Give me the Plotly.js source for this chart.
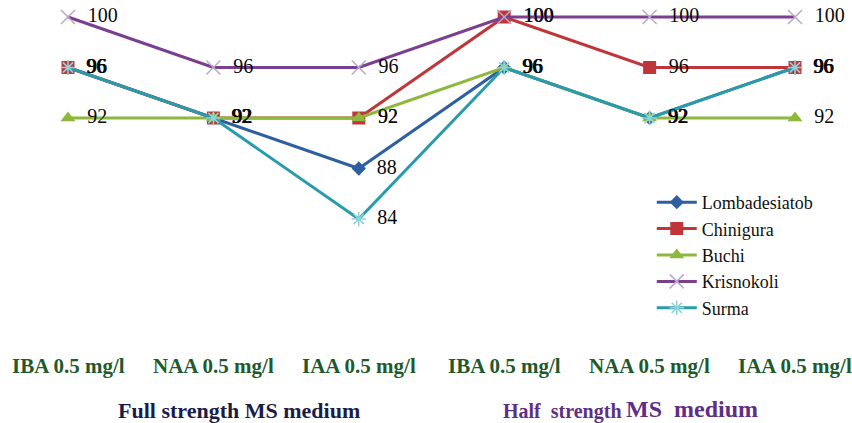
<!DOCTYPE html>
<html>
<head>
<meta charset="utf-8">
<script src="https://cdn.plot.ly/plotly-3.0.1.min.js"></script>
<style>html,body{margin:0;padding:0;background:#fff;}#chart{width:852px;height:423px;}</style>
</head>
<body>
<div id="chart"></div>
<script>
const categories = ["IBA 0.5 mg/l", "NAA 0.5 mg/l", "IAA 0.5 mg/l", "IBA 0.5 mg/l", "NAA 0.5 mg/l", "IAA 0.5 mg/l"];
const groups = ["Full strength MS medium", "Half  strength", "MS  medium"];
const seriesNames = ["Lombadesiatob", "Chinigura", "Buchi", "Krisnokoli", "Surma"];
const lombadesiatob = [96, 92, 88, 96, 92, 96];
const chinigura = [96, 92, 92, 100, 96, 96];
const buchi = [92, 92, 92, 96, 92, 92];
const krisnokoli = [100, 96, 96, 100, 100, 100];
const surma = [96, 92, 84, 96, 92, 96];

const SERIF = "Liberation Serif";
const values = [lombadesiatob, chinigura, buchi, krisnokoli, surma];
const colors = ["#2e5f9f", "#c0353a", "#8db83d", "#7b3f8f", "#2a9bab"];
const markers = [
  {symbol: "diamond", size: 11, color: "#2e5f9f"},
  {symbol: "square", size: 13, color: "#c0353a"},
  {symbol: "triangle-up", size: 13, color: "#8db83d"},
  {symbol: "x-thin-open", size: 14, color: "#b8aac8", line: {color: "#b8aac8", width: 1.5}},
  {symbol: "asterisk-open", size: 12, color: "#8fd3da", line: {color: "#8fd3da", width: 1.5}}
];
const xs = categories.map((c, i) => i);

const traces = seriesNames.map((name, k) => ({
  type: "scatter",
  mode: "lines+markers+text",
  name: name,
  legendgroup: "g" + k,
  x: xs,
  y: values[k],
  text: values[k].map(v => "  " + v),
  textposition: "middle right",
  textfont: {family: SERIF, size: 20, color: "#0a0a0a"},
  line: {color: colors[k], width: 3},
  marker: markers[k],
  cliponaxis: false
}));

const W = 852, H = 423;
const annotations = [];
categories.forEach((c, i) => {
  annotations.push({
    x: i, xref: "x", y: 1 - 366 / H, yref: "paper", yanchor: "middle",
    text: "<b>" + c + "</b>", showarrow: false,
    font: {family: SERIF, size: 21, color: "#1e5a2c"}
  });
});
annotations.push({
  x: 239 / W, xref: "paper", xanchor: "center", y: 1 - 410 / H, yref: "paper", yanchor: "middle",
  text: "<b>" + groups[0] + "</b>", showarrow: false,
  font: {family: SERIF, size: 22, color: "#1c1c4a"}
});
annotations.push({
  x: 624 / W, xref: "paper", xanchor: "right", y: 1 - 411 / H, yref: "paper", yanchor: "middle",
  text: "<b>" + groups[1] + "</b>", showarrow: false,
  font: {family: SERIF, size: 20, color: "#5e2f84"}
});
annotations.push({
  x: 624 / W, xref: "paper", xanchor: "left", y: 1 - 409 / H, yref: "paper", yanchor: "middle",
  text: "<b>" + groups[2] + "</b>", showarrow: false,
  font: {family: SERIF, size: 24, color: "#5e2f84"}
});

const layout = {
  width: W, height: H,
  margin: {l: 0, r: 0, t: 0, b: 0},
  paper_bgcolor: "#fff", plot_bgcolor: "#fff",
  showlegend: true,
  legend: {
    x: 0.765, y: 1 - 184 / H, xanchor: "left", yanchor: "top",
    font: {family: SERIF, size: 18, color: "#111"},
    bgcolor: "rgba(0,0,0,0)", tracegroupgap: 0, itemwidth: 40
  },
  xaxis: {range: [-68 / 145.4, 5 + 57 / 145.4], visible: false, fixedrange: true},
  yaxis: {range: [100 - 406 / 12.625, 100 + 17 / 12.625], visible: false, fixedrange: true},
  annotations: annotations
};

Plotly.newPlot("chart", traces, layout, {displayModeBar: false, staticPlot: true});
</script>
</body>
</html>
